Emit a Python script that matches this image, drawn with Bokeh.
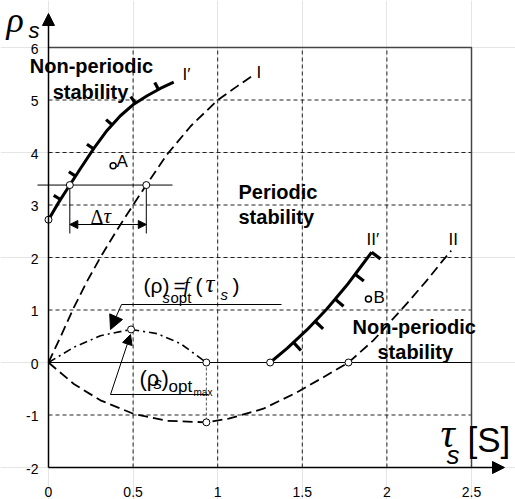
import numpy as np
from bokeh.plotting import figure
from bokeh.models import Range1d, Label, Arrow, NormalHead
from bokeh.core.properties import value
from bokeh.embed import file_html
from bokeh.resources import INLINE

# ---------------- data ----------------
x_ticks = [0, 0.5, 1, 1.5, 2, 2.5]
x_tick_labels = ["0", "0.5", "1", "1.5", "2", "2.5"]
y_ticks = [-2, -1, 0, 1, 2, 3, 4, 5, 6]
y_tick_labels = ["-2", "-1", "0", "1", "2", "3", "4", "5", "6"]

# curve I' (solid, non-periodic boundary)
i1p_tau = [0.0, 0.06, 0.126, 0.19, 0.268, 0.346, 0.425, 0.504, 0.583, 0.661, 0.74]
i1p_rho = [2.72, 3.05, 3.38, 3.70, 4.08, 4.42, 4.70, 4.92, 5.08, 5.22, 5.34]
i1p_hatch_tau = [0.071, 0.16, 0.266, 0.376, 0.514, 0.65]

# curve I (dashed, upper branch)
i1_tau = [0.0, 0.07, 0.15, 0.23, 0.31, 0.40, 0.50, 0.578, 0.70, 0.84, 1.0, 1.11, 1.21]
i1_rho = [0.0, 0.48, 1.05, 1.56, 2.02, 2.50, 3.00, 3.38, 3.96, 4.50, 5.00, 5.25, 5.47]

# curve II (dashed, lower branch)
ii_tau = [0.0, 0.15, 0.307, 0.504, 0.70, 0.933, 1.065, 1.27, 1.468, 1.625, 1.773, 1.92, 2.12, 2.235, 2.33, 2.38]
ii_rho = [0.0, -0.41, -0.72, -0.98, -1.11, -1.14, -1.07, -0.88, -0.57, -0.28, 0.0, 0.42, 1.13, 1.56, 1.94, 2.13]

# curve II' (solid)
ii1p_tau = [1.31, 1.41, 1.527, 1.645, 1.763, 1.84, 1.91]
ii1p_rho = [0.0, 0.27, 0.62, 1.02, 1.47, 1.80, 2.10]
ii1p_hatch_tau = [1.448, 1.576, 1.694, 1.812, 1.91]

# (rho_s)opt = f(tau_s)  (dash-dot)
opt_tau = [0.0, 0.15, 0.307, 0.488, 0.642, 0.78, 0.933]
opt_rho = [0.0, 0.29, 0.51, 0.63, 0.55, 0.36, 0.0]

# open circles
circ_tau = [0.0, 0.126, 0.578, 0.488, 0.933, 0.933, 1.31, 1.773]
circ_rho = [2.72, 3.38, 3.38, 0.63, 0.0, -1.14, 0.0, 0.0]

# points A and B
pt_tau = [0.382, 1.891]
pt_rho = [3.75, 1.21]

# delta tau construction
dtau_left, dtau_right, dtau_level = 0.126, 0.578, 3.38

# ---------------- figure (frame fills the canvas) ----------------
W, H = 515, 499
KX = 423 / 2.5      # px per unit tau
KY = 420 / 8.0      # px per unit rho
LEFT, TOP = 48, 47  # pixel position of (0, 6)

xmin = x_ticks[0] - LEFT / KX
xmax = xmin + W / KX
ymax = y_ticks[-1] + TOP / KY
ymin = ymax - H / KY

p = figure(width=W, height=H, x_range=Range1d(xmin, xmax), y_range=Range1d(ymin, ymax),
           output_backend="svg", toolbar_location=None,
           x_axis_location=None, y_axis_location=None, min_border=0,
           background_fill_color="white", border_fill_color="white",
           outline_line_color=None)
p.title.visible = False


def X(px):
    return xmin + px / KX


def Y(py):
    return ymax - py / KY


# grid (dashed, bounded to the frame)
gx = x_ticks[1:-1]
gy = y_ticks[1:-1]
p.segment(gx, [y_ticks[0]] * len(gx), gx, [y_ticks[-1]] * len(gx),
          line_color="#222222", line_dash="4 3", line_width=1)
p.segment([x_ticks[0]] * len(gy), gy, [x_ticks[-1]] * len(gy), gy,
          line_color="#222222", line_dash="4 3", line_width=1)

# frame (top and right), zero line
p.line([x_ticks[0], x_ticks[-1], x_ticks[-1]], [y_ticks[-1], y_ticks[-1], y_ticks[0]],
       line_color="#444444", line_width=1.5)
p.segment([x_ticks[0]], [0], [x_ticks[-1]], [0], line_color="black", line_width=1)

# tick labels
p.text(x=x_ticks, y=[y_ticks[0]] * len(x_ticks), text=x_tick_labels,
       text_font=value("Liberation Sans"), text_font_size="14px", text_color="black",
       text_align="center", text_baseline="middle", y_offset=24)
p.text(x=[x_ticks[0]] * len(y_ticks), y=y_ticks, text=y_tick_labels,
       text_font=value("Liberation Sans"), text_font_size="14px", text_color="black",
       text_align="right", text_baseline="middle", x_offset=-10, y_offset=1)

# curves
p.line(i1_tau, i1_rho, line_color="black", line_width=1.8, line_dash="10 5")
p.line(ii_tau, ii_rho, line_color="black", line_width=1.8, line_dash="10 5")
p.line(opt_tau, opt_rho, line_color="black", line_width=1.6, line_dash="8 4 2 4")
p.line(i1p_tau, i1p_rho, line_color="black", line_width=3)
p.line(ii1p_tau, ii1p_rho, line_color="black", line_width=3)


def hatch(tc, rc, ht, length_px, side):
    tc = np.asarray(tc, float)
    rc = np.asarray(rc, float)
    ht = np.asarray(ht, float)
    hr = np.interp(ht, tc, rc)
    slope = np.interp(ht, tc, np.gradient(rc, tc))
    tx = KX * np.ones_like(ht)
    ty = KY * slope
    n = np.hypot(tx, ty)
    nx, ny = -ty / n, tx / n
    x1 = ht + side * nx * length_px / KX
    y1 = hr + side * ny * length_px / KY
    p.segment(ht, hr, x1, y1, line_color="black", line_width=3.2)


hatch(i1p_tau, i1p_rho, i1p_hatch_tau, 8, +1)
hatch(ii1p_tau, ii1p_rho, ii1p_hatch_tau, 11, -1)

# vertical dashed from optimum end to curve minimum
p.segment([circ_tau[4]], [circ_rho[4]], [circ_tau[5]], [circ_rho[5]],
          line_color="#555555", line_width=1, line_dash="3 2")

# delta tau construction lines
p.segment([X(37)], [dtau_level], [X(172)], [dtau_level], line_color="black", line_width=1)
p.segment([dtau_left, dtau_right], [dtau_level] * 2, [dtau_left, dtau_right], [Y(233)] * 2,
          line_color="black", line_width=1)
p.add_layout(Arrow(x_start=dtau_left, y_start=Y(224), x_end=dtau_right, y_end=Y(224),
                   start=NormalHead(size=8, fill_color="black", line_color="black"),
                   end=NormalHead(size=8, fill_color="black", line_color="black"),
                   line_color="black", line_width=1))

# pointer for (rho)opt curve
p.segment([X(121)], [Y(304)], [X(281)], [Y(304)], line_color="black", line_width=1)
p.add_layout(Arrow(x_start=X(121), y_start=Y(304), x_end=X(110), y_end=Y(329),
                   end=NormalHead(size=14, fill_color="black", line_color="black"),
                   line_color="black", line_width=1))
# pointer for optimum maximum
p.segment([X(110)], [Y(394)], [X(208)], [Y(394)], line_color="black", line_width=1)
p.add_layout(Arrow(x_start=X(110), y_start=Y(394), x_end=X(130), y_end=Y(334),
                   end=NormalHead(size=10, fill_color="black", line_color="black"),
                   line_color="black", line_width=1))

# markers
p.scatter(circ_tau, circ_rho, size=7, marker="circle", fill_color="white",
          line_color="black", line_width=1)
p.scatter(pt_tau, pt_rho, size=6, marker="circle", fill_color="white",
          line_color="black", line_width=1.5)

# axes with arrows
p.add_layout(Arrow(x_start=x_ticks[0], y_start=y_ticks[0], x_end=x_ticks[0], y_end=Y(13),
                   end=NormalHead(size=12, fill_color="black", line_color="black"),
                   line_color="black", line_width=1.5))
p.add_layout(Arrow(x_start=x_ticks[0], y_start=y_ticks[0], x_end=X(504), y_end=y_ticks[0],
                   end=NormalHead(size=12, fill_color="black", line_color="black"),
                   line_color="black", line_width=1.5))

BASE_FIX = 0.35  # correction of the rendered baseline, in em


def lab(px, py, text, size, font="Liberation Sans", style="normal", align="left"):
    p.add_layout(Label(x=X(px), y=Y(py - BASE_FIX * size), text=text, text_font=font,
                       text_font_size=f"{size}px", text_font_style=style,
                       text_align=align, text_baseline="alphabetic", text_color="black"))


lab(91, 72, "Non-periodic", 20, style="bold", align="center")
lab(90, 98, "stability", 20, style="bold", align="center")
lab(238, 198, "Periodic", 20, style="bold")
lab(238, 223, "stability", 20, style="bold")
lab(352, 333, "Non-periodic", 20, style="bold")
lab(377, 358, "stability", 20, style="bold")
lab(182, 80, "I′", 17)
lab(256, 78, "I", 17)
lab(366, 245, "II′", 17)
lab(448, 245, "II", 17)
lab(116, 167, "A", 17)
lab(373, 303, "B", 17)
lab(90, 223, "Δ", 20, "Liberation Serif")
lab(103, 223, "τ", 21, "Liberation Serif", "italic")
lab(6, 32, "ρ", 36, "Liberation Serif", "italic")
lab(28, 38, "s", 22, "Liberation Sans", "italic")
lab(440, 447, "τ", 40, "Liberation Serif", "italic")
lab(446, 464, "s", 26, "Liberation Sans", "italic")
lab(467, 451, "[S]", 35)
# (rho)s_opt = f(tau_s)
lab(143, 292, "(ρ)", 21)
lab(162, 302, "s", 15, style="italic")
lab(170, 302, "opt", 15)
lab(173, 292, "=", 21)
lab(183, 292, "f", 22, "Liberation Serif", "italic")
lab(195, 292, "(", 21)
lab(205, 292, "τ", 25, "Liberation Serif", "italic")
lab(220, 299, "s", 15, style="italic")
lab(232, 292, ")", 21)
# (rho_s)opt_max
lab(139, 386, "(ρ", 22)
lab(153, 389, "s", 17, style="italic")
lab(161, 386, ")", 22)
lab(168, 392, "opt", 17)
lab(193, 395, "max", 10)

open("out.html", "w").write(file_html(p, INLINE))
